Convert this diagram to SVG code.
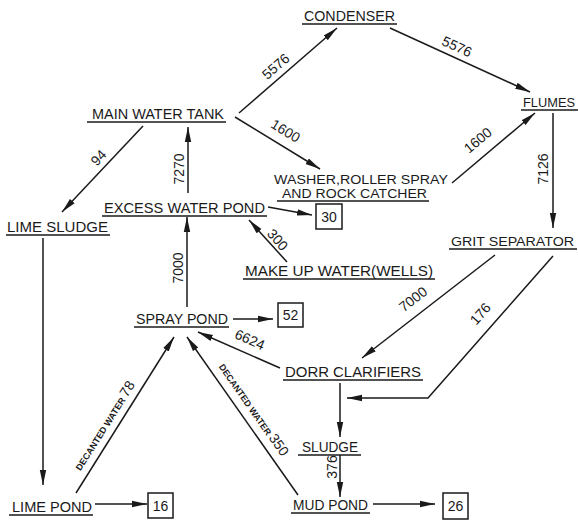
<svg xmlns="http://www.w3.org/2000/svg" width="578" height="521" viewBox="0 0 578 521">
<defs>
<marker id="ah" markerUnits="userSpaceOnUse" markerWidth="16" markerHeight="10" refX="15" refY="4" orient="auto">
<path d="M0,0.8 L15,4 L0,7.2 z" fill="#1a1a1a"/>
</marker>
<style>
.lbl{font-family:"Liberation Sans","DejaVu Sans",sans-serif;font-size:15px;fill:#1a1a1a;}
.num{font-family:"Liberation Sans","DejaVu Sans",sans-serif;font-size:14px;fill:#1a1a1a;text-anchor:middle;}
.sm{font-size:9px;font-weight:bold;}
.ul{stroke:#1a1a1a;stroke-width:1.6;fill:none;}
.c{stroke:#1a1a1a;stroke-width:1.5;fill:none;}
.a{marker-end:url(#ah);}
.box{stroke:#1a1a1a;stroke-width:1.5;fill:#fff;}
</style>
</defs>
<rect width="578" height="521" fill="#fff"/>

<g id="connectors">
<line class="c a" x1="239" y1="113" x2="337" y2="28"/>
<line class="c a" x1="390" y1="28" x2="530" y2="92"/>
<line class="c a" x1="235" y1="117" x2="320" y2="169"/>
<line class="c a" x1="452" y1="183" x2="535" y2="113"/>
<line class="c a" x1="553" y1="113" x2="553" y2="228"/>
<line class="c a" x1="143" y1="126" x2="62" y2="212"/>
<line class="c a" x1="188" y1="193" x2="188" y2="127"/>
<line class="c a" x1="187" y1="307" x2="187" y2="217"/>
<line class="c a" x1="268" y1="207" x2="312" y2="215"/>
<line class="c a" x1="287" y1="262" x2="249" y2="220"/>
<line class="c a" x1="233" y1="319" x2="273" y2="319"/>
<line class="c a" x1="495" y1="255" x2="362" y2="358"/>
<polyline class="c a" points="553,256 428,398 347,398"/>
<line class="c a" x1="340" y1="383" x2="340" y2="437"/>
<line class="c a" x1="340" y1="455" x2="340" y2="497"/>
<line class="c a" x1="373" y1="504" x2="435" y2="504"/>
<line class="c a" x1="280" y1="368" x2="198" y2="332"/>
<line class="c a" x1="76" y1="493" x2="174" y2="337"/>
<line class="c a" x1="298" y1="495" x2="187" y2="337"/>
<line class="c a" x1="43" y1="238" x2="43" y2="485"/>
<line class="c a" x1="95" y1="504" x2="147" y2="504"/>

<text class="num" transform="translate(279,70) rotate(-41)">5576</text>
<text class="num" transform="translate(455,51) rotate(24.6)">5576</text>
<text class="num" transform="translate(283,135) rotate(31.5)">1600</text>
<text class="num" transform="translate(481,144) rotate(-40)">1600</text>
<text class="num" transform="translate(548,169) rotate(-90)">7126</text>
<text class="num" transform="translate(102,161) rotate(-46.7)">94</text>
<text class="num" transform="translate(184,169) rotate(-90)">7270</text>
<text class="num" transform="translate(183,268) rotate(-90)">7000</text>
<text class="num" transform="translate(274,243) rotate(48)">300</text>
<text class="num" transform="translate(416,303) rotate(-37.8)">7000</text>
<text class="num" transform="translate(484,317) rotate(-48.6)">176</text>
<text class="num" transform="translate(337,467) rotate(-90)">376</text>
<text class="num" transform="translate(248,344) rotate(23.7)">6624</text>
<text class="num" transform="translate(108,428) rotate(-57.6)"><tspan class="sm">DECANTED WATER </tspan><tspan>78</tspan></text>
<text class="num" transform="translate(250,412) rotate(55)"><tspan class="sm">DECANTED WATER </tspan><tspan>350</tspan></text>
</g>

<g id="condenser">
<text class="lbl" x="304" y="21" textLength="91" lengthAdjust="spacingAndGlyphs">CONDENSER</text>
<line class="ul" x1="302" y1="24" x2="397" y2="24"/>
</g>
<g id="main-water-tank">
<text class="lbl" x="92" y="119" textLength="132" lengthAdjust="spacingAndGlyphs">MAIN WATER TANK</text>
<line class="ul" x1="87" y1="122" x2="226" y2="122"/>
</g>
<g id="flumes">
<text class="lbl" x="523" y="107" style="font-size:13px" textLength="52" lengthAdjust="spacingAndGlyphs">FLUMES</text>
<line class="ul" x1="521" y1="110" x2="578" y2="110"/>
</g>
<g id="washer">
<text class="lbl" style="font-size:12.5px"><tspan x="274" y="184" textLength="174" lengthAdjust="spacingAndGlyphs">WASHER,ROLLER SPRAY</tspan><tspan x="282" y="198" textLength="145" lengthAdjust="spacingAndGlyphs">AND ROCK CATCHER</tspan></text>
<line class="ul" x1="277" y1="201" x2="429" y2="201"/>
</g>
<g id="excess-water-pond">
<text class="lbl" x="104" y="213" textLength="161" lengthAdjust="spacingAndGlyphs">EXCESS WATER POND</text>
<line class="ul" x1="102" y1="216" x2="267" y2="216"/>
</g>
<g id="box-30">
<rect class="box" x="316" y="204" width="26" height="25"/>
<text class="num" x="329" y="222">30</text>
</g>
<g id="lime-sludge">
<text class="lbl" x="7" y="232" textLength="101" lengthAdjust="spacingAndGlyphs">LIME SLUDGE</text>
<line class="ul" x1="6" y1="235" x2="110" y2="235"/>
</g>
<g id="make-up-water">
<text class="lbl" x="245" y="276" textLength="188" lengthAdjust="spacingAndGlyphs">MAKE UP WATER(WELLS)</text>
<line class="ul" x1="243" y1="279" x2="435" y2="279"/>
</g>
<g id="grit-separator">
<text class="lbl" x="451" y="246" style="font-size:12.7px" textLength="123" lengthAdjust="spacingAndGlyphs">GRIT SEPARATOR</text>
<line class="ul" x1="449" y1="249" x2="577" y2="249"/>
</g>
<g id="spray-pond">
<text class="lbl" x="136" y="324" textLength="92" lengthAdjust="spacingAndGlyphs">SPRAY POND</text>
<line class="ul" x1="134" y1="327" x2="229" y2="327"/>
</g>
<g id="box-52">
<rect class="box" x="278" y="303" width="25" height="24"/>
<text class="num" x="290.5" y="320">52</text>
</g>
<g id="dorr-clarifiers">
<text class="lbl" x="285" y="377" textLength="136" lengthAdjust="spacingAndGlyphs">DORR  CLARIFIERS</text>
<line class="ul" x1="283" y1="380" x2="423" y2="380"/>
</g>
<g id="sludge">
<text class="lbl" x="302" y="452" textLength="56" lengthAdjust="spacingAndGlyphs">SLUDGE</text>
<line class="ul" x1="298" y1="455" x2="361" y2="455"/>
</g>
<g id="mud-pond">
<text class="lbl" x="293" y="510" textLength="75" lengthAdjust="spacingAndGlyphs">MUD POND</text>
<line class="ul" x1="291" y1="513" x2="370" y2="513"/>
</g>
<g id="box-26">
<rect class="box" x="443" y="493" width="25" height="26"/>
<text class="num" x="455.5" y="511">26</text>
</g>
<g id="lime-pond">
<text class="lbl" x="12" y="512" textLength="80" lengthAdjust="spacingAndGlyphs">LIME POND</text>
<line class="ul" x1="9" y1="515" x2="93" y2="515"/>
</g>
<g id="box-16">
<rect class="box" x="148" y="493" width="25" height="25"/>
<text class="num" x="160.5" y="511">16</text>
</g>
</svg>
